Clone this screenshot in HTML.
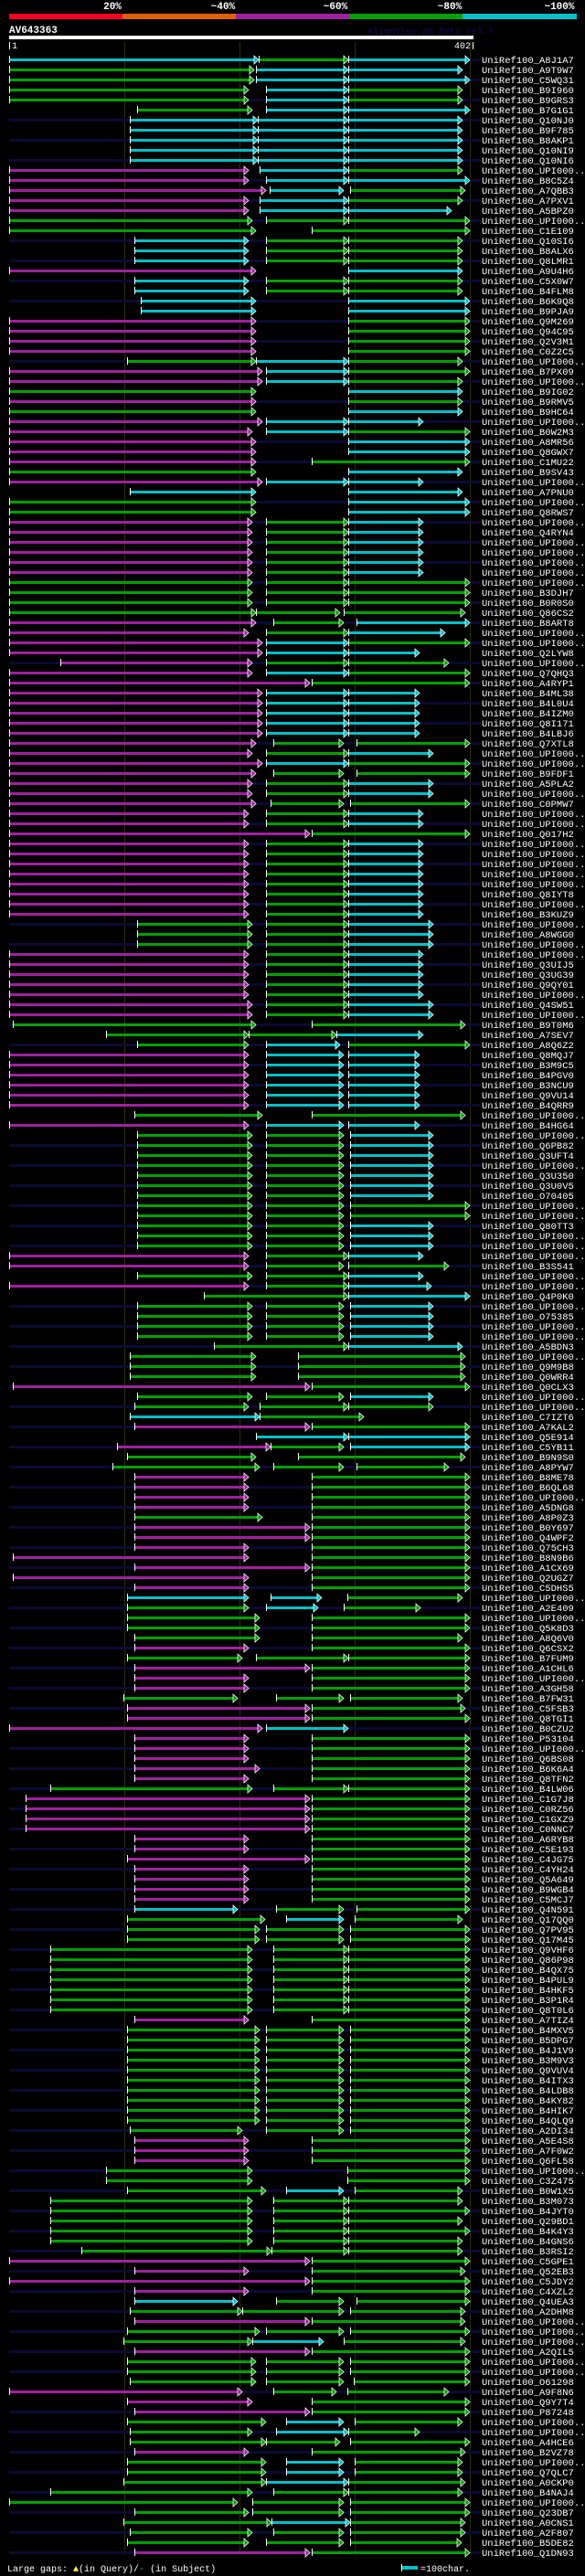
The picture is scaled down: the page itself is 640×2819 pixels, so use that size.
<!DOCTYPE html>
<html><head><meta charset="utf-8">
<style>
html,body{margin:0;padding:0;background:#000;}
svg{display:block;}
text{font-family:"Liberation Mono","DejaVu Sans Mono",monospace;}
</style></head>
<body>
<svg id="chart" xmlns="http://www.w3.org/2000/svg" width="640" height="2819" viewBox="0 0 640 2819">
<rect x="0" y="0" width="640" height="2819" fill="#000"/>
<g>
<rect x="10" y="15" width="124" height="6" fill="#ff0022"/>
<rect x="134" y="15" width="124" height="6" fill="#e06000"/>
<rect x="258" y="15" width="124" height="6" fill="#a020a0"/>
<rect x="382" y="15" width="124" height="6" fill="#00a000"/>
<rect x="506" y="15" width="125" height="6" fill="#00c0c8"/>
<text x="123" y="10" fill="#fff" font-size="11" font-weight="bold" text-anchor="middle">20%</text>
<text x="244" y="10" fill="#fff" font-size="11" font-weight="bold" text-anchor="middle">~40%</text>
<text x="367" y="10" fill="#fff" font-size="11" font-weight="bold" text-anchor="middle">~60%</text>
<text x="492" y="10" fill="#fff" font-size="11" font-weight="bold" text-anchor="middle">~80%</text>
<text x="612" y="10" fill="#fff" font-size="11" font-weight="bold" text-anchor="middle">~100%</text>
</g>
<text x="10" y="36" fill="#fff" font-size="11" font-weight="bold">AV643363</text>
<text x="402" y="37" fill="#0a0a40" font-size="10" font-weight="bold">AlignView.pm Beta rel.7</text>
<rect x="10" y="39" width="508" height="4" fill="#fff"/>
<rect x="10" y="46" width="1" height="8" fill="#fff"/>
<text x="13" y="53" fill="#fff" font-size="10">1</text>
<text x="515" y="53" fill="#fff" font-size="10" text-anchor="end">402</text>
<rect x="517" y="46" width="1" height="8" fill="#fff"/>
<g id="guides"></g>
<g id="rows"></g>
<g>
<text x="8" y="2814" fill="#fff" font-size="10">Large gaps: <tspan fill="#ffff60">▲</tspan>(in Query)/<tspan fill="#00c0c8">-</tspan> (in Subject)</text>
<rect x="439" y="2808" width="18" height="4" fill="#00c0c8"/>
<rect x="439" y="2806" width="1" height="8" fill="#fff"/>
<text x="460" y="2814" fill="#fff" font-size="10">=100char.</text>
</g>
</svg>
<script>
const guideXs = [136, 262, 388, 514];
const names = ["A8J1A7","A9T9W7","C5WQ31","B9I960","B9GRS3","B7G1G1","Q10NJ0","B9F785","B8AKP1","Q10NI9","Q10NI6","UPI000..","B8C5Z4","A7QBB3","A7PXV1","A5BPZ0","UPI000..","C1E109","Q10SI6","B8ALX6","Q8LMR1","A9U4H6","C5X0W7","B4FLM8","B6K9Q8","B9PJA9","Q9M269","Q94C95","Q2V3M1","C0Z2C5","UPI000..","B7PX09","UPI000..",
"B9IG02","B9RMV5","B9HC64","UPI000..","B0W2M3","A8MR56","Q8GWX7","C1MU22","B9SV43","UPI000..","A7PNU0","UPI000..","Q8RWS7","UPI000..","Q4RYN4","UPI000..","UPI000..","UPI000..","UPI000..","UPI000..","B3DJH7","B0R0S0","Q86CS2","B8ART8","UPI000..","UPI000..","Q2LYW8","UPI000..","Q7QHQ3",
"A4RYP1","B4ML38","B4L0U4","B4IZM0","Q8I171","B4LBJ6","Q7XTL8","UPI000..","UPI000..","B9FDF1","A5PLA2","UPI000..","C0PMW7","UPI000..","UPI000..","Q017H2","UPI000..","UPI000..","UPI000..","UPI000..","UPI000..","Q8IYT8","UPI000..","B3KUZ9","UPI000..","A8WGG0","UPI000..","UPI000..","Q3UIJ5","Q3UG39","Q9QY01","UPI000..","Q4SW51","UPI000..","B9T0M6","A7SEV7","A8Q6Z2","Q8MQJ7","B3M9C5","B4PGV0","B3NCU9","Q9VU14","B4QRR9","UPI000..","B4HG64",
"UPI000..","Q6PB82","Q3UFT4","UPI000..","Q3U350","Q3U0V5","O70405","UPI000..","UPI000..","Q80TT3","UPI000..","UPI000..","UPI000..","B3S541","UPI000..","UPI000..","Q4P0K0","UPI000..","O75385","UPI000..","UPI000..","A5BDN3","UPI000..","Q9M9B8","Q0WRR4","Q0CLX3","UPI000..","UPI000..","C7IZT6","A7KAL2","Q5E914","C5YB11","B9N9S0","A8PYW7","B8ME78","B6QL68","UPI000..","A5DNG8","A8P0Z3","B0Y697","Q4WPF2","Q75CH3","B8N9B6","A1CX69","Q2UGZ7","C5DHS5",
"UPI000..","A2E409","UPI000..","Q5K8D3","A8Q6V0","Q6CSX2","B7FUM9","A1CHL6","UPI000..","A3GH58","B7FW31","C5FSB3","Q8TGI1","B0CZU2","P53104","UPI000..","Q6BS08","B6K6A4","Q8TFN2","B4LW06","C1G7J8","C0RZ56","C1GXZ9","C0NNC7","A6RYB8","C5E193","C4JG75","C4YH24","Q5A649","B9WGB4","C5MCJ7","Q4N591","Q17QQ0","Q7PV95","Q17M45","Q9VHF6","Q86P98","B4QX75","B4PUL9","B4HKF5","B3P1R4","Q8T0L6","A7TIZ4","B4MXV5","B5DPG7",
"B4J1V9","B3M9V3","Q9VUV4","B4ITX3","B4LDB8","B4KY82","B4HIK7","B4QLQ9","A2DI34","A5E4S8","A7F0W2","Q6FL58","UPI000..","C3Z475","B0W1X5","B3M073","B4JYT0","Q29BD1","B4K4Y3","B4GNS6","B3RSI2","C5GPE1","Q52EB3","C5JDY2","C4XZL2","Q4UEA3","A2DHM8","UPI000..","UPI000..","UPI000..","A2QIL5","UPI000..","UPI000..","O61298","A9F8N6","Q9Y7T4","P87248","UPI000..","UPI000..","A4HCE6","B2VZ78","UPI000..","Q7QLC7","A0CKP0","B4NAJ4","UPI000..",
"Q23DB7","A0CNS1","A2F807","B5DE82","Q1DN93"];
const hitSpecs = [
"c10-283 g283-381 c381-514","g10-278 c280-381 c381-506","g10-278 c280-381 c381-514","g10-272 c291-381 g381-506","g10-272 c291-381 g381-506",
"g150-276 c291-381 c381-514","c142-282 c282-381 c381-506","c142-282 c282-381 c381-506","c142-282 c282-381 c381-506","c142-282 c282-381 c381-506","c142-282 c282-381 c381-506",
"m10-272 c284-381 g381-506","m10-272 c291-381 c381-514","m10-291 c295-376 g383-509","m10-272 c284-381 g381-506","m10-272 c284-381 c381-494",
"g10-276 g291-381 g381-514","g10-280 g341-514","c147-272 g291-381 g381-506","c147-272 g291-381 g381-506","c147-272 g291-381 g381-506",
"m10-280 c381-506","c147-272 g291-381 g381-506","c147-272 g291-381 g381-506","c154-280 c381-514","c154-280 c381-514",
"m10-280 g381-514","m10-280 g381-514","m10-280 g381-514","m10-280 g381-514","g139-280 c280-381 g381-506","m10-287 c291-381 g381-514","m10-287 c291-381 g381-506",
"g10-280 c381-506","m10-280 g381-506","g10-280 c381-506","m10-287 c291-381 c381-463","m10-276 c291-381 g381-514","m10-280 c381-514","m10-280 c381-514","m10-280 g341-514","g10-280 c381-506","m10-287 c291-381 c381-463","c142-280 c381-506","g10-280 c381-514","g10-280 c381-514",
"m10-276 g291-381 c381-463","m10-276 g291-381 c381-463","m10-276 g291-381 c381-463","m10-276 g291-381 c381-463","m10-276 g291-381 c381-463","m10-276 g291-381 c381-463",
"g10-276 g291-381 g381-514","g10-276 g291-381 g381-514","g10-276 g291-381 g381-514","g10-280 g280-372 g376-509","m10-280 g299-376 c390-514","m10-272 g291-381 c381-487","m10-287 c291-381 g381-514","m10-287 c291-381 c381-459","m66-276 g291-381 g381-491","m10-276 c291-381 g381-514",
"m10-339 g341-514","m10-287 c291-381 c381-459","m10-287 c291-381 c381-459","m10-287 c291-381 c381-459","m10-287 c291-381 c381-459","m10-287 c291-381 c381-459",
"m10-280 g299-376 g390-514","m10-276 g291-381 c381-474","m10-287 c291-381 g381-514","m10-280 g299-376 g390-514","m10-276 g291-381 c381-474","m10-276 g291-381 c381-474","m10-280 g296-376 g383-514",
"m10-272 g291-381 c381-463","m10-272 g291-381 c381-463","m10-339 g341-514",
"m10-272 g291-381 c381-463","m10-272 g291-381 c381-463","m10-272 g291-381 c381-463","m10-272 g291-381 c381-463","m10-272 g291-381 c381-463","m10-272 g291-381 c381-463","m10-272 g291-381 c381-463","m10-272 g291-381 c381-463",
"g150-276 g291-381 c381-474","g150-276 g291-381 c381-474","g150-276 g291-381 c381-474",
"m10-272 g291-381 c381-463","m10-272 g291-381 c381-463","m10-272 g291-381 c381-463","m10-272 g291-381 c381-463","m10-272 g291-381 c381-463",
"m10-276 g291-381 c381-474","m10-276 g291-381 c381-474","g14-280 g341-509","g116-272 g272-368 c368-463","g150-272 c291-372 g381-514",
"m10-272 c291-376 c381-459","m10-272 c291-376 c381-459","m10-272 c291-376 c381-459","m10-272 c291-376 c381-459","m10-272 c291-376 c381-459","m10-272 c291-376 c381-459",
"g147-287 g341-509","m10-272 c291-376 c381-459",
"g150-276 g291-376 c383-474","g150-276 g291-376 c383-474","g150-276 g291-376 c383-474","g150-276 g291-376 c383-474","g150-276 g291-376 c383-474","g150-276 g291-376 c383-474","g150-276 g291-376 c383-474",
"g150-276 g291-376 g383-514","g150-276 g291-376 g383-514","g150-276 g291-376 c383-474","g150-276 g291-376 c383-474","g150-276 g291-376 c383-474",
"m10-272 g291-381 c381-463","m10-272 g291-376 g381-491","g150-276 g291-381 c381-463","m10-272 g291-381 c381-472","g223-381 c381-514",
"g150-276 g291-376 c383-474","g150-276 g291-376 c383-474","g150-276 g291-376 c383-474","g150-276 g291-376 c383-474","g234-381 c381-506",
"g142-280 g326-509","g142-280 g326-509","g142-280 g326-509","m14-339 g341-514","g150-276 g291-376 c383-474","g147-272 g284-381 g381-474","c142-284 g284-398","m147-339 g341-514","c280-381 c381-514","m128-296 g296-376 c383-514","g139-280 g326-509","g123-284 g299-376 g390-491",
"m147-272 g341-514","m147-272 g341-514","m147-272 g341-514","m147-272 g341-514","g147-287 g341-514","m147-339 g341-514","m147-339 g341-514","m147-272 g341-514","m14-272 g341-514","m147-339 g341-514","m14-272 g341-514","m147-272 g341-514",
"c139-272 c296-352 g380-506","g139-272 c291-348 g376-460","g139-284 g341-514","g139-284 g341-514","g147-284 g341-506","m147-272 g341-514","g139-265 g280-381 g381-514","m147-339 g341-514","m147-272 g341-514","m147-272 g341-514","g135-260 g302-376 g383-506","m139-339 g341-509","m139-339 g341-514","m10-287 c291-381",
"m147-272 g341-514","m147-272 g341-514","m147-272 g341-514","m147-284 g341-514","m147-272 g341-514","g55-276 g299-381 g381-514",
"m28-339 g341-514","m28-339 g341-514","m28-339 g341-514","m28-339 g341-514","m147-272 g341-514","m147-272 g341-514","m139-339 g341-514",
"m147-272 g341-514","m147-272 g341-514","m147-272 g341-514","m147-272 g341-514","c147-260 g302-376 g390-514","g139-290 c313-376 g388-506","g139-284 g291-376 g383-514","g139-284 g291-376 g383-514",
"g55-276 g299-381 g381-514","g55-276 g299-381 g381-514","g55-276 g299-381 g381-514","g55-276 g299-381 g381-514","g55-276 g299-381 g381-514","g55-276 g299-381 g381-514","g55-276 g299-381 g381-514",
"m147-272 g341-514","g139-284 g291-376 g383-514","g139-284 g291-376 g383-514",
"g139-284 g291-376 g383-514","g139-284 g291-376 g383-514","g139-284 g291-376 g383-514","g139-284 g291-376 g383-514","g139-284 g291-376 g383-514","g139-284 g291-376 g383-514","g139-284 g291-376 g383-514","g139-284 g291-376 g383-514",
"g142-265 g291-376 g383-514","m147-272 g341-514","m147-272 g341-514","m147-272 g341-514","g116-276 g380-514","g116-276 g380-514","g139-291 c313-376 g388-506",
"g55-276 g299-381 g381-506","g55-276 g299-381 g381-514","g55-276 g299-381 g381-506","g55-276 g299-381 g381-514","g55-276 g299-381 g381-506","g89-297 g297-381 g381-506",
"m10-339 g341-514","m147-272 g341-509","m10-339 g341-514","m147-272 g341-514","c147-260 g302-376 g390-514","g142-265 g265-376 g383-509","m147-339 g341-509","g139-284 g291-376 g383-514","g135-276 c276-354 g376-509","m147-339 g341-514",
"g139-280 g291-376 g383-514","g139-280 g291-376 g383-514","g142-280 g291-376 g387-514","m10-265 g299-368 g380-491","m139-276 g341-514","m147-339 g341-514","g139-291 c313-376 g388-506","g142-276 c302-381 g381-459","g142-291 g291-372 g383-514","m147-272 g341-509","g139-291 c313-376 g388-506","g139-291 c313-376 g388-506","g135-291 c291-381 g381-509","g55-276 g299-381 g381-506","g10-260 g276-376 g383-514",
"g147-272 g276-376 g383-514","g135-297 c297-383 g383-509","g142-276 g299-376 g383-509","g139-272 g291-376 g383-505","m147-339 g341-514"
];
const colorMap = {m:"#a020a0", g:"#00a000", c:"#00c0c8"};
const rowTop = 65, rowPitch = 11;
const NS = "http://www.w3.org/2000/svg";
function yOf(i){ return rowTop + i*rowPitch; }

const gGuides = document.getElementById('guides');
guideXs.forEach(function(x, k){
  const l = document.createElementNS(NS,'rect');
  l.setAttribute('x', x); l.setAttribute('y', 46); l.setAttribute('width', 1); l.setAttribute('height', 2750);
  l.setAttribute('fill', '#2e2e08');
  
  
  gGuides.appendChild(l);
});

const gRows = document.getElementById('rows');
hitSpecs.forEach(function(spec, i){
  const y = yOf(i);
  const g = document.createElementNS(NS,'g');
  
  
  if (i % 2 === 0) {
    const bg = document.createElementNS(NS,'rect');
    bg.setAttribute('x', 10); bg.setAttribute('y', y-1); bg.setAttribute('width', 516); bg.setAttribute('height', 3);
    bg.setAttribute('fill', '#0a0a32');
    
    
    g.appendChild(bg);
  }
  spec.split(' ').forEach(function(s){
    const c = colorMap[s[0]];
    const p = s.slice(1).split('-');
    const x1 = +p[0], x2 = +p[1];
    const bar = document.createElementNS(NS,'rect');
    bar.setAttribute('x', x1); bar.setAttribute('y', y-1); bar.setAttribute('width', Math.max(1, x2-x1-4)); bar.setAttribute('height', 3);
    bar.setAttribute('fill', c);
    
    
    g.appendChild(bar);
    const tick = document.createElementNS(NS,'rect');
    tick.setAttribute('x', x1); tick.setAttribute('y', y-4); tick.setAttribute('width', 1); tick.setAttribute('height', 8);
    tick.setAttribute('fill', '#fff');
    
    
    g.appendChild(tick);
    const arr = document.createElementNS(NS,'polygon');
    arr.setAttribute('points', (x2-5)+','+(y-4)+' '+(x2)+','+(y+0.5)+' '+(x2-5)+','+(y+5));
    arr.setAttribute('fill', c); arr.setAttribute('stroke', '#fff'); arr.setAttribute('stroke-width', '0.8');
    
    
    g.appendChild(arr);
  });
  const t = document.createElementNS(NS,'text');
  t.setAttribute('x', 527); t.setAttribute('y', y+4);
  t.setAttribute('fill', '#fff'); t.setAttribute('font-size', '10.5');
  
  
  t.textContent = 'UniRef100_' + (names[i] || 'UPI000..');
  g.appendChild(t);
  gRows.appendChild(g);
});
</script>
</body></html>
